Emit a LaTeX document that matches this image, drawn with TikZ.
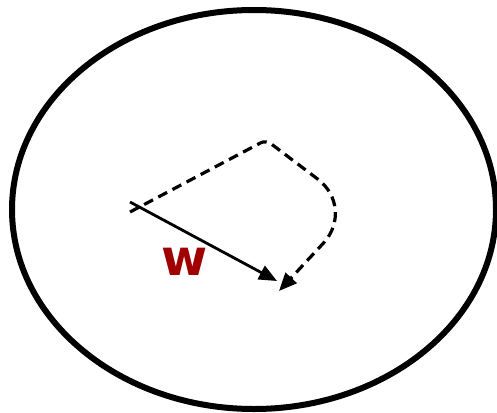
\documentclass[tikz,border=0pt]{standalone}
\usepackage{fontspec}
\setsansfont{DejaVu Sans}
\usetikzlibrary{arrows.meta, positioning}
\definecolor{wRed}{HTML}{A00000}
\tikzset{
  arrowS/.style={-{Triangle[length=18pt, width=15pt]}, black, line width=2.8pt},
  arrowD/.style={-{Triangle[length=18pt, width=15pt]}, black, line width=3.2pt,
                 dash pattern=on 10pt off 6pt},
  rim/.style={draw=black, line width=6pt},
  vecLabel/.style={text=wRed, font=\sffamily\bfseries\fontsize{50}{50}\selectfont,
                   inner sep=0pt},
}
\begin{document}
\begin{tikzpicture}[x=1pt, y=-1pt]
    \useasboundingbox (0,0) rectangle (497,412);
    \draw[rim] (254,209.5) ellipse [x radius=242, y radius=199.5];
    \coordinate (s0) at (130,202);
    \coordinate (s1) at (277,281);
    \coordinate (d0) at (130,212);
    \coordinate (top) at (266,140);
    \coordinate (rgt) at (356,208);
    \coordinate (d1) at (279,291);
    \node[vecLabel] (w) at (185,262) {w};
    \draw[arrowS] (s0) -- (s1);
    \draw[arrowD, rounded corners=6pt] (d0) -- (top)
      [rounded corners=48pt] -- (rgt) -- (d1);
\end{tikzpicture}
\end{document}
